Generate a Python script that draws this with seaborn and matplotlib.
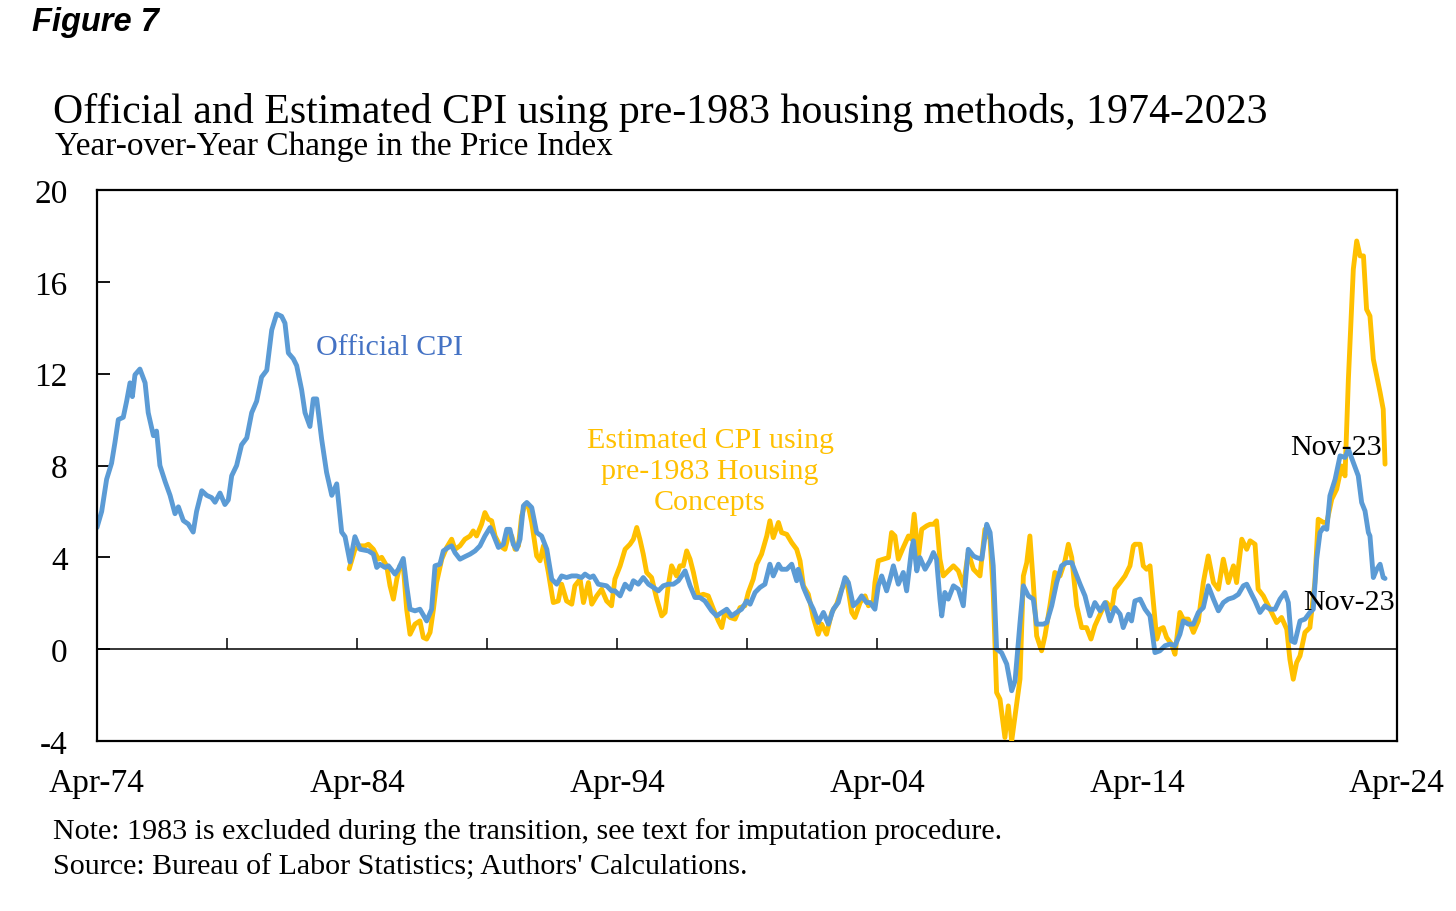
import numpy as np
import pandas as pd
import seaborn as sns
import matplotlib.pyplot as plt

# Official CPI, year-over-year % change
official_year = [
    1974.25, 1974.43, 1974.62, 1974.81, 1974.94, 1975.07, 1975.26, 1975.39, 1975.52, 1975.61,
    1975.71, 1975.90, 1976.10, 1976.22, 1976.42, 1976.54, 1976.67, 1976.87, 1977.06, 1977.25,
    1977.38, 1977.57, 1977.76, 1977.95, 1978.08, 1978.28, 1978.47, 1978.66, 1978.79, 1978.98,
    1979.17, 1979.30, 1979.43, 1979.62, 1979.81, 1980.01, 1980.20, 1980.39, 1980.58, 1980.78,
    1980.97, 1981.16, 1981.35, 1981.48, 1981.61, 1981.80, 1981.93, 1982.12, 1982.25, 1982.44,
    1982.57, 1982.70, 1982.89, 1983.08, 1983.28, 1983.47, 1983.66, 1983.79, 1983.98, 1984.17,
    1984.37, 1984.69, 1984.88, 1985.01, 1985.13, 1985.33, 1985.46, 1985.71, 1985.84, 1986.03,
    1986.16, 1986.29, 1986.48, 1986.67, 1986.93, 1987.12, 1987.25, 1987.44, 1987.57, 1987.76,
    1987.89, 1988.02, 1988.21, 1988.40, 1988.60, 1988.79, 1988.98, 1989.17, 1989.37, 1989.49,
    1989.69, 1989.88, 1990.01, 1990.13, 1990.26, 1990.39, 1990.52, 1990.65, 1990.78, 1990.97,
    1991.16, 1991.35, 1991.55, 1991.74, 1991.93, 1992.12, 1992.31, 1992.51, 1992.70, 1992.89,
    1993.02, 1993.21, 1993.34, 1993.53, 1993.85, 1994.04, 1994.17, 1994.37, 1994.56, 1994.75,
    1994.88, 1995.07, 1995.26, 1995.46, 1995.65, 1995.84, 1996.03, 1996.22, 1996.42, 1996.61,
    1996.87, 1997.06, 1997.25, 1997.44, 1997.63, 1997.89, 1998.08, 1998.28, 1998.47, 1998.66,
    1998.85, 1999.04, 1999.24, 1999.37, 1999.56, 1999.75, 1999.94, 2000.13, 2000.26, 2000.46,
    2000.58, 2000.78, 2000.97, 2001.16, 2001.22, 2001.42, 2001.61, 2001.80, 2001.99, 2002.19,
    2002.38, 2002.57, 2002.76, 2003.02, 2003.15, 2003.34, 2003.53, 2003.66, 2003.85, 2003.98,
    2004.17, 2004.30, 2004.43, 2004.62, 2004.75, 2004.88, 2005.07, 2005.26, 2005.39, 2005.58,
    2005.65, 2005.78, 2005.90, 2006.10, 2006.29, 2006.42, 2006.54, 2006.67, 2006.74, 2006.86,
    2006.99, 2007.19, 2007.38, 2007.57, 2007.76, 2007.96, 2008.08, 2008.28, 2008.47, 2008.60,
    2008.72, 2008.85, 2009.04, 2009.24, 2009.43, 2009.56, 2009.75, 2009.88, 2010.07, 2010.26,
    2010.39, 2010.65, 2010.78, 2010.97, 2011.16, 2011.35, 2011.54, 2011.74, 2011.86, 2012.06,
    2012.25, 2012.44, 2012.63, 2012.83, 2013.02, 2013.21, 2013.40, 2013.60, 2013.72, 2013.92,
    2014.04, 2014.17, 2014.37, 2014.56, 2014.75, 2014.94, 2015.13, 2015.33, 2015.52, 2015.71,
    2015.90, 2016.03, 2016.22, 2016.42, 2016.61, 2016.80, 2016.99, 2017.19, 2017.38, 2017.57,
    2017.76, 2017.96, 2018.15, 2018.34, 2018.47, 2018.66, 2018.79, 2018.98, 2019.17, 2019.37,
    2019.56, 2019.75, 2019.94, 2020.07, 2020.19, 2020.32, 2020.52, 2020.71, 2020.90, 2021.03,
    2021.16, 2021.29, 2021.42, 2021.55, 2021.67, 2021.87, 2022.06, 2022.25, 2022.38, 2022.57,
    2022.76, 2022.89, 2023.02, 2023.15, 2023.21, 2023.34, 2023.47, 2023.60, 2023.72, 2023.79,
]
official_cpi = [
    5.3, 6.0, 7.4, 8.1, 9.0, 10.0, 10.1, 10.8, 11.6, 11.0,
    11.95, 12.2, 11.6, 10.3, 9.3, 9.5, 8.0, 7.3, 6.7, 5.9,
    6.2, 5.6, 5.45, 5.1, 6.0, 6.9, 6.7, 6.6, 6.4, 6.8,
    6.3, 6.5, 7.55, 8.0, 8.9, 9.2, 10.3, 10.8, 11.85, 12.15,
    13.9, 14.6, 14.5, 14.2, 12.9, 12.65, 12.35, 11.3, 10.3, 9.7,
    10.9, 10.9, 9.15, 7.7, 6.7, 7.2, 5.1, 4.9, 3.8, 4.9,
    4.35, 4.28, 4.14, 3.56, 3.7, 3.56, 3.63, 3.27, 3.48, 3.95,
    2.76, 1.74, 1.67, 1.74, 1.23, 1.74, 3.63, 3.7, 4.28, 4.43,
    4.5, 4.2, 3.92, 4.03, 4.14, 4.28, 4.5, 4.93, 5.3, 5.0,
    4.43, 4.57, 5.22, 5.22, 4.57, 4.35, 4.79, 6.24, 6.39, 6.17,
    5.08, 4.93, 4.35, 3.05, 2.83, 3.19, 3.12, 3.19, 3.19, 3.12,
    3.27, 3.12, 3.19, 2.83, 2.76, 2.54, 2.54, 2.32, 2.83, 2.61,
    2.98, 2.83, 3.12, 2.83, 2.69, 2.54, 2.76, 2.83, 2.83, 2.98,
    3.41, 2.76, 2.25, 2.25, 2.1, 1.67, 1.45, 1.6, 1.74, 1.45,
    1.6, 1.74, 2.1, 1.96, 2.47, 2.69, 2.83, 3.7, 3.19, 3.7,
    3.48, 3.48, 3.7, 2.98, 3.48, 2.69, 2.18, 1.74, 1.16, 1.6,
    1.09, 1.74, 2.03, 3.12, 2.9, 1.89, 2.1, 2.32, 2.03, 2.03,
    1.74, 2.76, 3.19, 2.54, 3.05, 3.63, 2.83, 3.34, 2.54, 4.35,
    4.72, 3.41, 3.99, 3.48, 3.85, 4.21, 3.92, 2.18, 1.45, 2.47,
    2.18, 2.76, 2.61, 1.89, 4.35, 4.06, 3.99, 3.92, 5.44, 5.08,
    3.63, 0.0, -0.15, -0.65, -1.81, -1.38, 1.16, 2.76, 2.32, 2.18,
    1.09, 1.09, 1.16, 1.89, 2.9, 3.63, 3.77, 3.77, 3.41, 2.83,
    2.32, 1.45, 2.03, 1.67, 2.03, 1.23, 1.81, 1.52, 0.94, 1.52,
    1.23, 2.1, 2.18, 1.74, 1.45, -0.15, -0.07, 0.15, 0.22, 0.15,
    0.65, 1.23, 1.09, 1.09, 1.6, 1.81, 2.76, 2.18, 1.67, 2.03,
    2.18, 2.25, 2.39, 2.76, 2.83, 2.39, 2.1, 1.6, 1.89, 1.74,
    1.74, 2.18, 2.47, 2.03, 0.36, 0.29, 1.23, 1.31, 1.6, 1.74,
    3.92, 5.08, 5.3, 5.22, 6.68, 7.4, 8.42, 8.35, 8.71, 8.13,
    7.55, 6.39, 6.02, 5.08, 4.93, 3.12, 3.48, 3.7, 3.12, 3.08,
]

# Estimated CPI using pre-1983 housing concepts
estimated_year = [
    1983.95, 1984.17, 1984.37, 1984.56, 1984.69, 1984.88, 1985.07, 1985.20, 1985.39, 1985.52,
    1985.65, 1985.78, 1985.90, 1986.03, 1986.16, 1986.29, 1986.48, 1986.67, 1986.80, 1986.93,
    1987.06, 1987.19, 1987.31, 1987.51, 1987.70, 1987.89, 1988.02, 1988.21, 1988.40, 1988.60,
    1988.72, 1988.85, 1989.04, 1989.17, 1989.30, 1989.43, 1989.56, 1989.75, 1989.94, 1990.07,
    1990.20, 1990.33, 1990.46, 1990.58, 1990.71, 1990.84, 1990.97, 1991.16, 1991.29, 1991.42,
    1991.61, 1991.80, 1991.99, 1992.12, 1992.31, 1992.51, 1992.63, 1992.83, 1992.96, 1993.15,
    1993.28, 1993.47, 1993.66, 1993.85, 1994.04, 1994.17, 1994.37, 1994.56, 1994.75, 1994.88,
    1995.01, 1995.13, 1995.26, 1995.39, 1995.58, 1995.78, 1995.97, 1996.10, 1996.22, 1996.35,
    1996.54, 1996.67, 1996.80, 1996.93, 1997.06, 1997.19, 1997.38, 1997.57, 1997.76, 1997.96,
    1998.15, 1998.28, 1998.40, 1998.60, 1998.79, 1998.98, 1999.17, 1999.30, 1999.49, 1999.62,
    1999.81, 2000.01, 2000.13, 2000.26, 2000.46, 2000.58, 2000.78, 2000.97, 2001.16, 2001.29,
    2001.42, 2001.61, 2001.80, 2001.99, 2002.12, 2002.31, 2002.51, 2002.70, 2002.89, 2003.08,
    2003.28, 2003.40, 2003.60, 2003.79, 2003.92, 2004.11, 2004.17, 2004.30, 2004.49, 2004.69,
    2004.81, 2004.94, 2005.07, 2005.26, 2005.46, 2005.58, 2005.68, 2005.84, 2005.97, 2006.16,
    2006.29, 2006.42, 2006.54, 2006.67, 2006.80, 2006.99, 2007.19, 2007.38, 2007.57, 2007.76,
    2007.96, 2008.21, 2008.40, 2008.60, 2008.72, 2008.85, 2008.98, 2009.17, 2009.30, 2009.43,
    2009.56, 2009.75, 2009.88, 2010.01, 2010.13, 2010.26, 2010.39, 2010.58, 2010.71, 2010.90,
    2011.09, 2011.29, 2011.48, 2011.61, 2011.74, 2011.93, 2012.12, 2012.31, 2012.48, 2012.63,
    2012.89, 2013.08, 2013.28, 2013.40, 2013.60, 2013.79, 2013.98, 2014.11, 2014.17, 2014.37,
    2014.49, 2014.62, 2014.75, 2014.88, 2015.01, 2015.13, 2015.26, 2015.39, 2015.58, 2015.71,
    2015.90, 2016.03, 2016.22, 2016.42, 2016.61, 2016.80, 2016.99, 2017.19, 2017.38, 2017.57,
    2017.76, 2017.96, 2018.08, 2018.28, 2018.47, 2018.60, 2018.79, 2018.91, 2019.11, 2019.30,
    2019.49, 2019.62, 2019.81, 2020.01, 2020.13, 2020.26, 2020.39, 2020.52, 2020.71, 2020.90,
    2021.09, 2021.22, 2021.42, 2021.55, 2021.74, 2021.93, 2022.12, 2022.25, 2022.38, 2022.57,
    2022.70, 2022.83, 2022.96, 2023.08, 2023.21, 2023.34, 2023.47, 2023.60, 2023.72, 2023.79,
]
estimated_cpi = [
    3.5, 4.35, 4.5, 4.5, 4.57, 4.35, 3.92, 4.0, 3.63, 2.76,
    2.18, 3.05, 3.63, 3.63, 1.74, 0.65, 1.09, 1.23, 0.51, 0.44,
    0.73, 1.74, 2.9, 3.92, 4.43, 4.79, 4.35, 4.5, 4.79, 4.93,
    5.15, 4.93, 5.44, 5.95, 5.66, 5.59, 4.93, 4.5, 4.35, 4.93,
    4.93, 4.35, 4.5, 5.8, 6.31, 6.24, 5.52, 4.06, 3.85, 4.5,
    3.34, 2.03, 2.1, 2.83, 2.1, 1.96, 2.76, 3.05, 2.03, 2.9,
    1.96, 2.32, 2.61, 2.1, 1.89, 3.05, 3.63, 4.35, 4.57, 4.79,
    5.3, 4.79, 4.14, 3.34, 3.12, 2.18, 1.45, 1.6, 2.76, 3.63,
    3.19, 3.63, 3.63, 4.28, 3.92, 3.34, 2.32, 2.39, 2.32, 1.74,
    1.23, 0.94, 1.6, 1.38, 1.31, 1.81, 1.89, 2.47, 3.05, 3.7,
    4.14, 4.93, 5.59, 4.86, 5.52, 5.08, 5.0, 4.64, 4.35, 3.85,
    2.76, 2.39, 1.38, 0.65, 1.09, 0.65, 1.6, 1.96, 2.61, 3.05,
    1.6, 1.38, 2.03, 2.32, 1.89, 2.1, 2.9, 3.85, 3.92, 3.99,
    5.08, 4.93, 3.92, 4.43, 4.93, 4.79, 5.88, 3.99, 5.22, 5.37,
    5.44, 5.44, 5.59, 3.92, 3.19, 3.41, 3.63, 3.41, 2.76, 4.21,
    3.48, 3.19, 5.22, 4.79, 2.47, -1.89, -2.18, -3.85, -2.47, -4.0,
    -2.9, -1.3, 3.19, 3.77, 4.93, 2.9, 0.58, -0.07, 0.58, 1.89,
    3.34, 3.19, 3.85, 4.57, 3.99, 1.89, 0.94, 0.94, 0.44, 1.02,
    1.67, 2.03, 1.74, 2.61, 2.9, 3.19, 3.63, 4.5, 4.57, 4.57,
    3.63, 3.48, 3.63, 2.03, 0.44, 0.87, 0.94, 0.51, 0.22, -0.22,
    1.6, 1.31, 1.31, 0.73, 1.23, 2.9, 4.06, 2.9, 2.61, 3.92,
    2.9, 3.63, 2.9, 4.79, 4.35, 4.72, 4.57, 2.61, 2.32, 1.89,
    1.45, 1.16, 1.38, 0.87, -0.44, -1.31, -0.58, -0.29, 0.73, 0.94,
    2.9, 5.66, 5.52, 5.52, 6.53, 6.97, 7.98, 7.55, 11.76, 16.55,
    17.78, 17.13, 17.13, 14.8, 14.51, 12.63, 11.9, 11.18, 10.45, 8.06,
]

tick_years = [1974.25, 1984.25, 1994.25, 2004.25, 2014.25, 2024.25]
tick_labels = ['Apr-74', 'Apr-84', 'Apr-94', 'Apr-04', 'Apr-14', 'Apr-24']
minor_years = [1979.25, 1984.25, 1989.25, 1994.25, 1999.25, 2004.25, 2009.25,
               2014.25, 2019.25, 2024.25]

official = pd.DataFrame({'year': official_year, 'cpi': official_cpi})
estimated = pd.DataFrame({'year': estimated_year, 'cpi': estimated_cpi})

sns.set_style('white')
plt.rcParams['font.family'] = ['Liberation Serif', 'DejaVu Serif']
plt.rcParams['axes.unicode_minus'] = False
plt.rcParams['text.color'] = 'black'
plt.rcParams['xtick.color'] = 'black'
plt.rcParams['ytick.color'] = 'black'

BLUE = '#5B9BD5'
GOLD = '#FFC000'

fig = plt.figure(figsize=(14.56, 9.12), dpi=100)
ax = fig.add_axes([97 / 1456, 1 - 742 / 912, 1300 / 1456, 551 / 912])

sns.lineplot(data=estimated, x='year', y='cpi', color=GOLD, linewidth=3.5, ax=ax)
sns.lineplot(data=official, x='year', y='cpi', color=BLUE, linewidth=3.5, ax=ax)

ax.set_xlim(1974.25, 2024.25)
ax.set_ylim(-4, 20)
ax.set_xlabel('')
ax.set_ylabel('')

# y axis
ax.set_yticks(np.arange(-4, 21, 4))
ax.tick_params(axis='y', direction='in', length=9, width=1.3, pad=21,
               labelsize=24, left=True, right=False, color='black', labelcolor='black')

# zero line carries the small tick marks
ax.spines['bottom'].set_position(('data', 0))
ax.spines['bottom'].set_linewidth(1.1)
ax.set_xticks(minor_years)
ax.tick_params(axis='x', direction='in', length=8, width=1.1, labelbottom=False,
               bottom=True, color='black')

# bottom of the box with the date labels
sec = ax.secondary_xaxis('bottom')
sec.set_xticks(tick_years, tick_labels)
sec.tick_params(length=0, pad=19, labelsize=24, labelcolor='black')
sec.spines['bottom'].set_linewidth(1.6)

for side in ['top', 'left', 'right']:
    ax.spines[side].set_visible(True)
    ax.spines[side].set_color('black')
    ax.spines[side].set_linewidth(1.6)
ax.spines['bottom'].set_color('black')
sec.spines['bottom'].set_color('black')

# labels on the chart
ax.text(1982.67, 12.85, 'Official CPI', color='#4472C4', fontsize=21.6, va='baseline')
ax.text(1997.83, 7.75, 'Estimated CPI using\npre-1983 Housing\nConcepts', color=GOLD,
        fontsize=21.6, ha='center', va='center', linespacing=1.26)
ax.text(2020.13, 8.49, 'Nov-23', color='black', fontsize=21.6, va='baseline')
ax.text(2020.63, 1.74, 'Nov-23', color='black', fontsize=21.6, va='baseline')

# titles and notes
fig.text(32 / 1456, 1 - 22 / 912, 'Figure 7', fontsize=23.5, fontweight='bold',
         fontstyle='italic', family=['Liberation Sans', 'DejaVu Sans'], va='center')
fig.text(53 / 1456, 1 - 123 / 912,
         'Official and Estimated CPI using pre-1983 housing methods, 1974-2023',
         fontsize=30.2, va='baseline')
fig.text(55 / 1456, 1 - 155 / 912, 'Year-over-Year Change in the Price Index',
         fontsize=24, va='baseline')
fig.text(53 / 1456, 1 - 839 / 912,
         'Note: 1983 is excluded during the transition, see text for imputation procedure.',
         fontsize=21.6, va='baseline')
fig.text(53 / 1456, 1 - 875 / 912, "Source: Bureau of Labor Statistics; Authors' Calculations.",
         fontsize=21.6, va='baseline')

fig.savefig('out.png', dpi=100)
